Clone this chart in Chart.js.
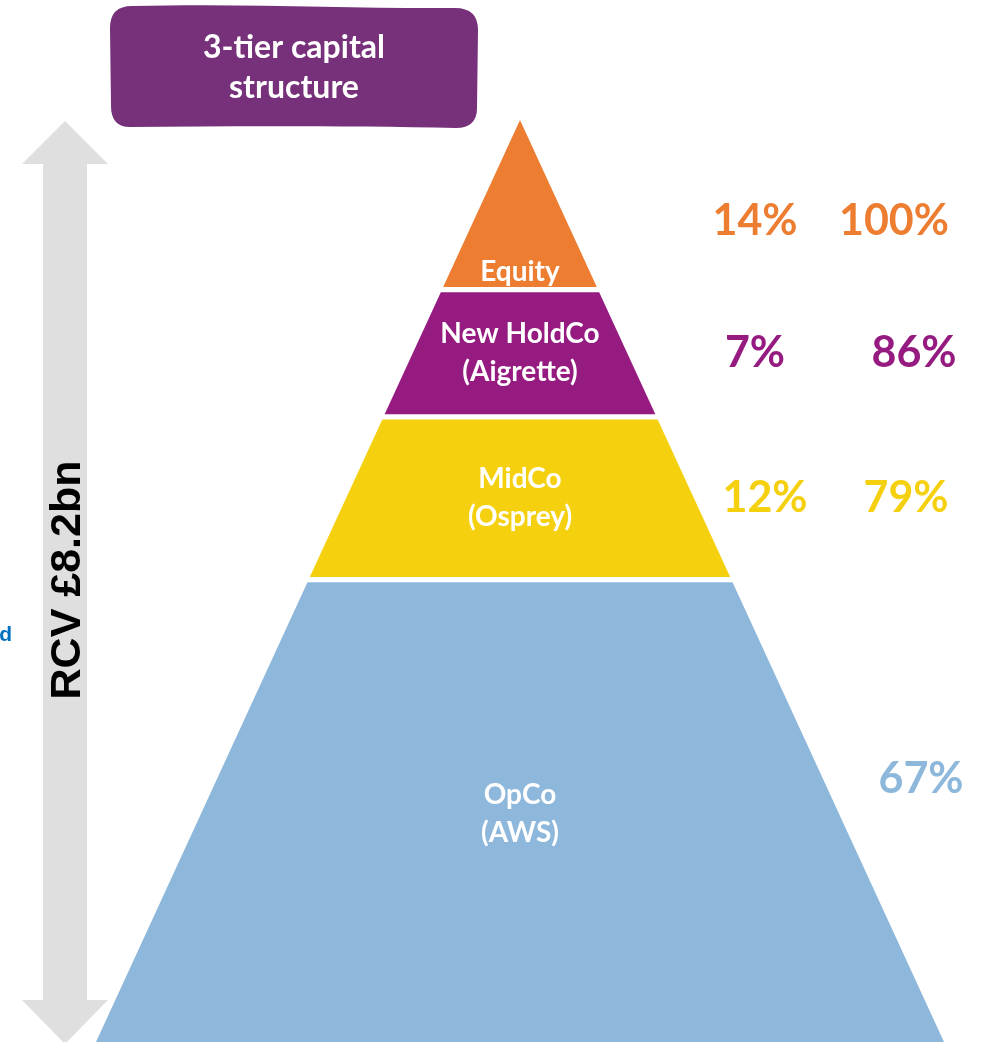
<!DOCTYPE html>
<html>
<head>
<meta charset="utf-8">
<script src="https://cdn.jsdelivr.net/npm/chart.js@4"></script>
<style>
  html, body { margin: 0; padding: 0; background: #fff; }
  #wrap { width: 987px; height: 1042px; position: relative; }
</style>
</head>
<body>
<div id="wrap"><canvas id="pyramid"></canvas></div>
<script>
// tiers from top of the pyramid to the bottom
const tierNames = ["Equity", "New HoldCo (Aigrette)", "MidCo (Osprey)", "OpCo (AWS)"];
const tierLines = [["Equity"], ["New HoldCo", "(Aigrette)"], ["MidCo", "(Osprey)"], ["OpCo", "(AWS)"]];
const shares = [14, 7, 12, 67];
const cumulative = [100, 86, 79, null];
// level of each tier on the pyramid axis (0 = base, 100 = apex)
const tierTop = [100, 81.6, 67.8, 50.15];
const tierBottom = [81.6, 67.8, 50.15, 0];
const tierColors = ["#ED7D31", "#951B81", "#F5D00F", "#8DB7DB"];

const GAP = 0.55;
const halfWidth = (lvl) => (100 - lvl) / 100;

function tierPolygon(i) {
  const t = tierTop[i] - (i > 0 ? GAP / 2 : 0);
  const b = tierBottom[i] + (i < tierTop.length - 1 ? GAP / 2 : 0);
  return [
    { x: -halfWidth(b), y: b },
    { x: halfWidth(b), y: b },
    { x: halfWidth(t), y: t },
    { x: -halfWidth(t), y: t },
    { x: -halfWidth(b), y: b },
  ];
}

const canvas = document.getElementById("pyramid");
canvas.width = 987;
canvas.height = 1042;
const ctx = canvas.getContext("2d");

// background bits: title badge, RCV arrow
const decorPlugin = {
  id: "decor",
  beforeDatasetsDraw(chart) {
    const c = chart.ctx;
    c.save();
    // grey double arrow
    c.fillStyle = "#DFDFDF";
    c.beginPath();
    c.moveTo(65, 121);
    c.lineTo(108, 164);
    c.lineTo(87, 164);
    c.lineTo(87, 1000);
    c.lineTo(108, 1000);
    c.lineTo(65, 1044);
    c.lineTo(22, 1000);
    c.lineTo(43, 1000);
    c.lineTo(43, 164);
    c.lineTo(22, 164);
    c.closePath();
    c.fill();

    // RCV text
    c.translate(68, 580);
    c.rotate(-Math.PI / 2);
    c.fillStyle = "#000";
    c.font = "bold 43px 'Liberation Sans', Arial, sans-serif";
    c.textAlign = "center";
    c.textBaseline = "middle";
    c.fillText("RCV £8.2bn", 0, 0);
    c.restore();

    // stray cut-off text at the left edge
    c.save();
    c.fillStyle = "#0070C0";
    c.font = "bold 21px 'Liberation Sans', Arial, sans-serif";
    c.textAlign = "right";
    c.textBaseline = "middle";
    c.fillText("d", 12, 635);
    c.restore();

    // title badge
    c.save();
    c.fillStyle = "#76317A";
    c.beginPath();
    c.moveTo(132, 6);
    c.bezierCurveTo(250, 3, 360, 9, 455, 8);
    c.quadraticCurveTo(478, 8, 478, 30);
    c.lineTo(477, 108);
    c.quadraticCurveTo(477, 128, 456, 128);
    c.bezierCurveTo(360, 126, 240, 126, 130, 127);
    c.quadraticCurveTo(111, 127, 111, 106);
    c.lineTo(110, 28);
    c.quadraticCurveTo(110, 6, 132, 6);
    c.closePath();
    c.fill();
    c.fillStyle = "#fff";
    c.font = "bold 32px Lato, 'Open Sans', sans-serif";
    c.textAlign = "center";
    c.textBaseline = "middle";
    c.fillText("3-tier capital", 294, 48);
    c.fillText("structure", 294, 88);
    c.restore();
  },
};

// tier names inside, percentages to the right
const labelPlugin = {
  id: "tierLabels",
  afterDatasetsDraw(chart, args, opts) {
    const c = chart.ctx;
    const xs = chart.scales.x;
    const ys = chart.scales.y;
    const cx = xs.getPixelForValue(0);
    c.save();
    c.textAlign = "center";
    c.textBaseline = "middle";
    tierLines.forEach((lines, i) => {
      const midY = ys.getPixelForValue((tierTop[i] + tierBottom[i]) / 2) + opts.nameShift[i];
      c.fillStyle = "#fff";
      c.font = "bold 28px Lato, 'Open Sans', sans-serif";
      const lh = 38;
      lines.forEach((ln, j) => {
        c.fillText(ln, cx, midY + (j - (lines.length - 1) / 2) * lh);
      });

      const py = ys.getPixelForValue((tierTop[i] + tierBottom[i]) / 2) + opts.pctShift[i];
      c.fillStyle = tierColors[i];
      c.font = "bold 43px Lato, 'Open Sans', sans-serif";
      if (cumulative[i] === null) {
        c.fillText(shares[i] + "%", opts.pctX[i][1], py);
      } else {
        c.fillText(shares[i] + "%", opts.pctX[i][0], py);
        c.fillText(cumulative[i] + "%", opts.pctX[i][1], py);
      }
    });
    c.restore();
  },
};

const chart = new Chart(ctx, {
  type: "scatter",
  data: {
    datasets: tierNames.map((name, i) => ({
      label: name,
      data: tierPolygon(i),
      showLine: true,
      fill: "shape",
      backgroundColor: tierColors[i],
      borderColor: "transparent",
      borderWidth: 0,
      pointRadius: 0,
      tension: 0,
    })),
  },
  options: {
    responsive: false,
    animation: false,
    layout: { padding: 0 },
    scales: {
      x: { type: "linear", display: false, min: -520 / 424, max: 467 / 424 },
      y: { type: "linear", display: false, min: 0, max: 100 + 120 / 9.22 },
    },
    plugins: {
      legend: { display: false },
      tooltip: { enabled: false },
      tierLabels: {
        nameShift: [67, 0, 0, 3],
        pctShift: [16, 0, 0, -32],
        pctX: [[755, 894], [755, 914], [765, 906], [null, 921]],
      },
    },
  },
  plugins: [decorPlugin, labelPlugin],
});
</script>
</body>
</html>
